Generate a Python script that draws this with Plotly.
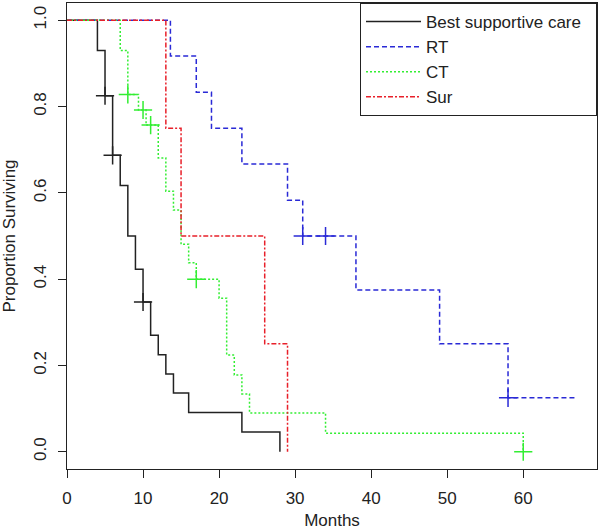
import plotly.graph_objects as go

# ---- data (months, survival proportion) ----
bsc_t = [0, 4, 5, 6, 7, 8, 9, 10, 11, 12, 13, 14, 16, 23, 28]
bsc_s = [1.0, 0.93, 0.825, 0.687, 0.617, 0.5, 0.423, 0.347, 0.27, 0.225, 0.18, 0.136, 0.091, 0.046, 0.0]
bsc_cens_t = [5, 6, 10]
bsc_cens_s = [0.825, 0.687, 0.347]

rt_t = [0, 13.6, 17, 19, 23, 29, 31, 38, 49, 58, 67]
rt_s = [1.0, 0.917, 0.833, 0.75, 0.667, 0.583, 0.5, 0.375, 0.25, 0.125, 0.125]
rt_cens_t = [31, 34, 58]
rt_cens_s = [0.5, 0.5, 0.125]

ct_t = [0, 7, 8, 9.4, 10.4, 12, 13, 14, 15, 16, 17, 20, 21, 22, 23, 24, 34, 60]
ct_s = [1.0, 0.93, 0.828, 0.792, 0.757, 0.681, 0.604, 0.56, 0.481, 0.438, 0.40, 0.356, 0.224, 0.178, 0.134, 0.09, 0.043, 0.0]
ct_cens_t = [8, 10, 11, 17, 60]
ct_cens_s = [0.828, 0.792, 0.757, 0.40, 0.0]

sur_t = [0, 13, 15, 26, 29]
sur_s = [1.0, 0.75, 0.5, 0.25, 0.0]

x_ticks = [0, 10, 20, 30, 40, 50, 60]
y_ticks = [0.0, 0.2, 0.4, 0.6, 0.8, 1.0]
y_tick_labels = ["0.0", "0.2", "0.4", "0.6", "0.8", "1.0"]

FONT = "Liberation Sans, Arial, sans-serif"
BLACK = "#222222"
BLUE = "#2a2ad6"
GREEN = "#33ee33"
RED = "#e8202a"

fig = go.Figure()

series = [
    ("Best supportive care", bsc_t, bsc_s, bsc_cens_t, bsc_cens_s, BLACK, "solid"),
    ("RT", rt_t, rt_s, rt_cens_t, rt_cens_s, BLUE, "5px,3px"),
    ("CT", ct_t, ct_s, ct_cens_t, ct_cens_s, GREEN, "2px,2px"),
    ("Sur", sur_t, sur_s, [], [], RED, "5px,2px,2px,2px"),
]

for name, t, s, ct, cs, color, dash in series:
    fig.add_trace(go.Scatter(
        x=t, y=s, mode="lines", name=name + "\u00a0\u00a0", line_shape="hv",
        line=dict(color=color, width=1.5, dash=dash),
    ))
    if ct:
        fig.add_trace(go.Scatter(
            x=ct, y=cs, mode="markers", showlegend=False,
            marker=dict(symbol="cross-thin", size=13, color=color,
                        line=dict(color=color, width=1.5)),
        ))

axis_common = dict(
    showgrid=False, zeroline=False, showline=True, mirror=True,
    linecolor=BLACK, linewidth=1, ticks="outside", ticklen=8,
    tickcolor=BLACK, tickwidth=1, automargin=False,
    tickfont=dict(family=FONT, size=17, color=BLACK),
)

fig.update_xaxes(
    range=[0, 69.7], tickmode="array", tickvals=x_ticks,
    title=dict(text="Months", font=dict(family=FONT, size=17, color=BLACK), standoff=6),
    ticklabelstandoff=6,
    **axis_common,
)
fig.update_yaxes(
    range=[-0.04, 1.04], tickmode="array", tickvals=y_ticks, ticktext=y_tick_labels,
    tickangle=-90,
    title=dict(text="Proportion Surviving", font=dict(family=FONT, size=17, color=BLACK), standoff=12),
    ticklabelstandoff=5,
    **axis_common,
)

fig.update_layout(
    width=600, height=530,
    margin=dict(l=67, r=3, t=3, b=61),
    paper_bgcolor="white", plot_bgcolor="white",
    font=dict(family=FONT, size=17, color=BLACK),
    legend=dict(
        x=1, y=1, xanchor="right", yanchor="top",
        bordercolor=BLACK, borderwidth=1, bgcolor="white",
        font=dict(family=FONT, size=17, color=BLACK),
        itemwidth=55,
    ),
)

fig.write_html("out.html", config={"displayModeBar": False},
               post_script="document.body.style.margin='0px';")
